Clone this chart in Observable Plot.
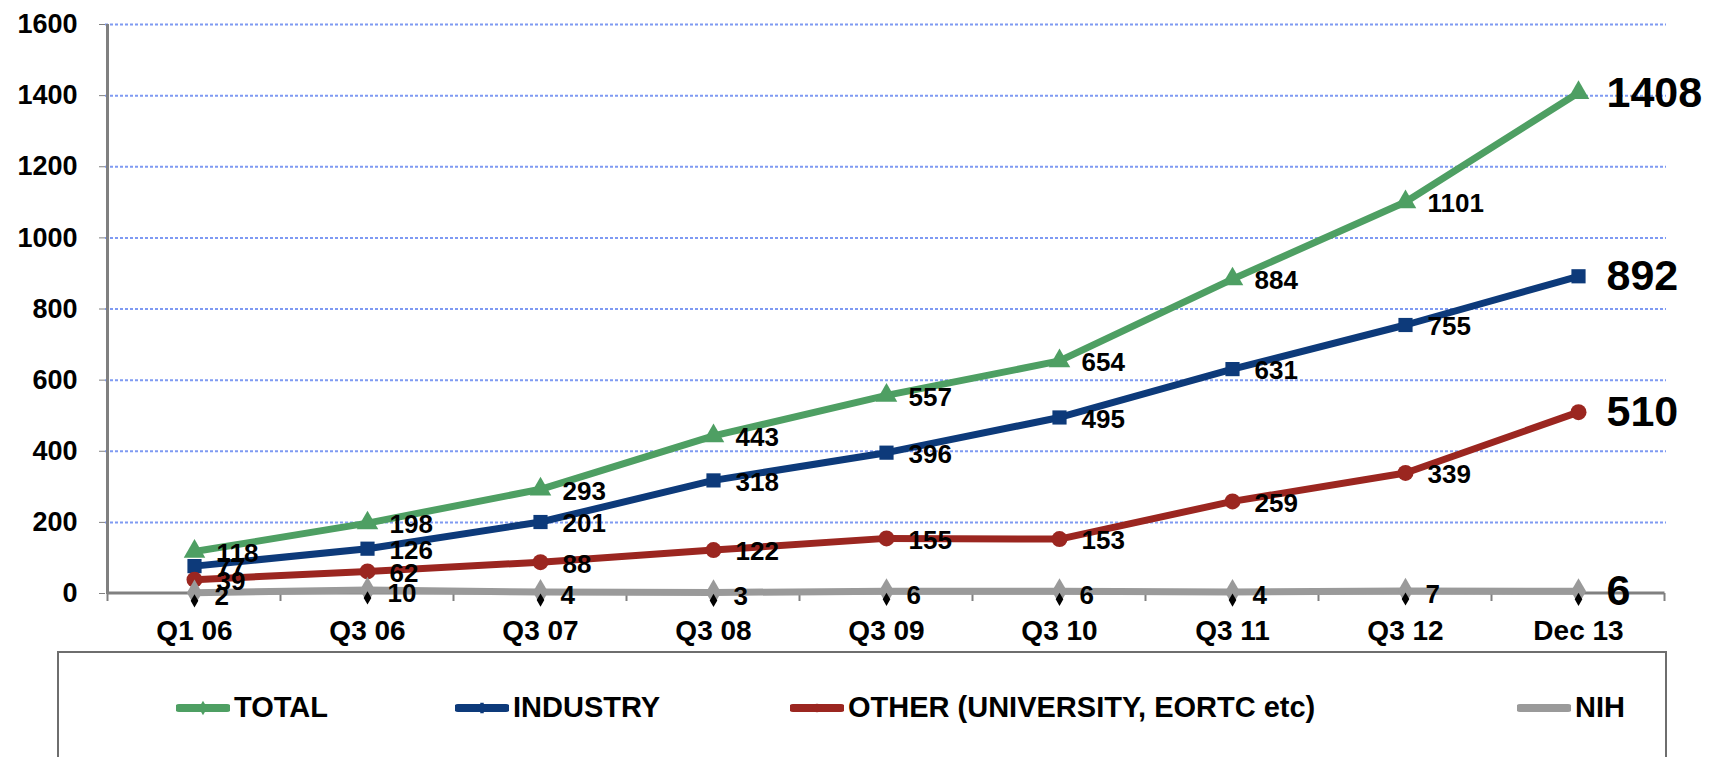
<!DOCTYPE html>
<html>
<head>
<meta charset="utf-8">
<script src="https://cdn.jsdelivr.net/npm/d3@7"></script>
<script src="https://cdn.jsdelivr.net/npm/@observablehq/plot@0.6"></script>
<style>
  html, body { margin: 0; padding: 0; background: #fff; }
  body { width: 1721px; height: 757px; position: relative; overflow: hidden; font-family: "Liberation Sans", Arial, sans-serif; }
  #chart { position: absolute; left: 0; top: 0; }
  #legend { position: absolute; left: 57px; top: 651px; width: 1610px; height: 140px; border: 2px solid #6e6e6e; box-sizing: border-box; }
  .item { position: absolute; top: 38px; display: flex; align-items: center; font-weight: bold; font-size: 29px; color: #000; white-space: nowrap; }
  .item svg { margin-right: 4px; }
</style>
</head>
<body>
<div id="chart"></div>
<div id="legend"></div>
<script>
const categories = ["Q1 06", "Q3 06", "Q3 07", "Q3 08", "Q3 09", "Q3 10", "Q3 11", "Q3 12", "Dec 13"];
const total    = [118, 198, 293, 443, 557, 654, 884, 1101, 1408];
const industry = [77, 126, 201, 318, 396, 495, 631, 755, 892];
const other    = [39, 62, 88, 122, 155, 153, 259, 339, 510];
const nih      = [2, 10, 4, 3, 6, 6, 4, 7, 6];
const seriesNames  = ["TOTAL", "INDUSTRY", "OTHER (UNIVERSITY, EORTC etc)", "NIH"];
const seriesColors = ["#4e9f63", "#0d3a7a", "#9b2620", "#9a9a9a"];
const seriesSymbols = ["triangle", "square", "circle", "diamond"];
const yTicks = [0, 200, 400, 600, 800, 1000, 1200, 1400, 1600];

const seriesValues = [total, industry, other, nih];
const rows = [];
seriesValues.forEach((vals, s) => {
  vals.forEach((v, i) => rows.push({series: seriesNames[s], cat: categories[i], value: v, last: i === categories.length - 1, nih: s === 3}));
});

const lastIdx = categories.length - 1;
const plot = Plot.plot({
  width: 1721,
  height: 650,
  marginLeft: 105,
  marginRight: 55,
  marginTop: 24,
  marginBottom: 57,
  style: {fontFamily: "'Liberation Sans', Arial, sans-serif", color: "#000", background: "#fff"},
  x: {type: "point", domain: categories, padding: 0.5, label: null},
  y: {domain: [0, 1600], label: null},
  color: {domain: seriesNames, range: seriesColors},
  symbol: {domain: seriesNames, range: seriesSymbols},
  marks: [
    Plot.ruleY(yTicks.filter(d => d > 0), {stroke: "#7f9af2", strokeWidth: 2, strokeDasharray: "3,2"}),
    Plot.axisY(yTicks, {tickSize: 6, tickPadding: 22, fontSize: 27, fontWeight: "bold", stroke: "#808080", tickFormat: d => String(d), label: null}),
    Plot.axisX({tickSize: 0, tickPadding: 27, fontSize: 28, fontWeight: "bold", label: null}),
    Plot.line(rows, {x: "cat", y: "value", z: "series", stroke: "series", strokeWidth: 7, strokeLinejoin: "round"}),
    Plot.dot(rows, {x: "cat", y: "value", fill: "series", symbol: "series", r: 8, stroke: "none"}),
    Plot.dot(rows.filter(d => d.nih), {x: "cat", y: "value", fill: "#000", symbol: "diamond", r: 4, dy: 8}),
    Plot.text(rows.filter(d => !d.last && !d.nih), {x: "cat", y: "value", text: d => String(d.value), textAnchor: "start", dx: 22, dy: 2, fontSize: 26, fontWeight: "bold", fill: "#000"}),
    Plot.text(rows.filter(d => !d.last && d.nih), {x: "cat", y: "value", text: d => String(d.value), textAnchor: "start", dx: 20, dy: 4, fontSize: 26, fontWeight: "bold", fill: "#000"}),
    Plot.text(rows.filter(d => d.last), {x: "cat", y: "value", text: d => String(d.value), textAnchor: "start", dx: 28, fontSize: 43, fontWeight: "bold", fill: "#000"})
  ]
});
document.getElementById("chart").appendChild(plot);

// axis lines and category-boundary ticks
const xs = plot.scale("x");
const ys = plot.scale("y");
const svg = d3.select(plot);
const x0 = xs.apply(categories[0]);
const step = xs.apply(categories[1]) - x0;
const left = x0 - step / 2;
const right = xs.apply(categories[lastIdx]) + step / 2;
const yb = ys.apply(0);
const g = svg.insert("g", "g[aria-label='line']").attr("stroke", "#808080").attr("stroke-width", 3);
g.append("line").attr("x1", left).attr("x2", left).attr("y1", ys.apply(1600)).attr("y2", yb + 1);
g.append("line").attr("x1", left).attr("x2", right).attr("y1", yb).attr("y2", yb);
for (let i = 0; i <= categories.length; i++) {
  const xx = left + i * step;
  g.append("line").attr("x1", xx).attr("x2", xx).attr("y1", yb).attr("y2", yb + 8).attr("stroke-width", 2);
}

// legend
const legend = document.getElementById("legend");
const legendX = [117, 396, 731, 1458];
seriesNames.forEach((name, i) => {
  const div = document.createElement("div");
  div.className = "item";
  div.style.left = legendX[i] + "px";
  const sym = d3.symbol(d3.symbolsFill[[2, 1, 0, 3][i]], 60)();
  div.innerHTML = `<svg width="54" height="20"><line x1="3" x2="51" y1="10" y2="10" stroke="${seriesColors[i]}" stroke-width="8" stroke-linecap="round"/><path d="${sym}" transform="translate(27,10)" fill="${seriesColors[i]}"/></svg><span>${name}</span>`;
  legend.appendChild(div);
});
</script>
</body>
</html>
